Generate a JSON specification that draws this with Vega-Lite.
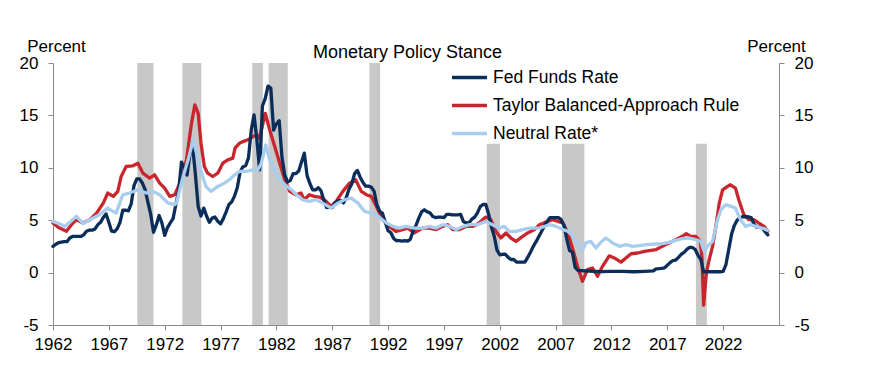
{
"$schema": "https://vega.github.io/schema/vega-lite/v6.json",
"width": 726,
"height": 262,
"autosize": {"type": "none"},
"padding": {"left": 53, "top": 63, "right": 90, "bottom": 40},
"background": "white",
"config": {
  "font": "Liberation Sans",
  "view": {"stroke": null},
  "axis": {"grid": false, "domainColor": "#8a8a8a", "tickColor": "#8a8a8a", "domainWidth": 1, "tickWidth": 1, "tickSize": 5,
           "labelFont": "Liberation Sans", "labelFontSize": 17, "labelColor": "#000000",
           "titleFont": "Liberation Sans", "titleFontSize": 17, "titleFontWeight": "normal", "titleColor": "#000000"}
},
"title": {"text": "Monetary Policy Stance", "font": "Liberation Sans", "fontSize": 18, "fontWeight": "normal", "color": "#000000",
          "anchor": "middle", "frame": "group", "dx": -8.5, "baseline": "alphabetic", "offset": -39},
"datasets": {
  "rec": [
    {"s": 1969.55, "e": 1971.0, "top": 20},
    {"s": 1973.58, "e": 1975.28, "top": 20},
    {"s": 1979.84, "e": 1980.79, "top": 20},
    {"s": 1981.3, "e": 1983.02, "top": 20},
    {"s": 1990.33, "e": 1991.29, "top": 20},
    {"s": 2000.83, "e": 2002.02, "top": 12.3},
    {"s": 2007.57, "e": 2009.57, "top": 12.3},
    {"s": 2019.56, "e": 2020.54, "top": 12.3}
  ],
  "ffr": [
    {"t":1962.0,"v":2.5},{"t":1962.25,"v":2.7},{"t":1962.5,"v":2.85},{"t":1962.75,"v":2.9},{"t":1963.0,"v":2.95},{"t":1963.25,"v":2.95},{"t":1963.5,"v":3.3},{"t":1963.75,"v":3.45},
    {"t":1964.0,"v":3.45},{"t":1964.25,"v":3.45},{"t":1964.5,"v":3.45},{"t":1964.75,"v":3.6},{"t":1965.0,"v":3.95},{"t":1965.25,"v":4.05},{"t":1965.5,"v":4.05},{"t":1965.75,"v":4.15},
    {"t":1966.0,"v":4.55},{"t":1966.25,"v":4.8},{"t":1966.5,"v":5.25},{"t":1966.75,"v":5.6},{"t":1967.0,"v":4.8},{"t":1967.25,"v":3.95},{"t":1967.5,"v":3.9},{"t":1967.75,"v":4.2},
    {"t":1968.0,"v":4.8},{"t":1968.25,"v":5.95},{"t":1968.5,"v":5.95},{"t":1968.75,"v":5.9},{"t":1969.0,"v":6.55},{"t":1969.25,"v":8.3},{"t":1969.5,"v":8.95},{"t":1969.75,"v":8.95},
    {"t":1970.0,"v":8.55},{"t":1970.25,"v":7.9},{"t":1970.5,"v":6.7},{"t":1970.75,"v":5.55},{"t":1971.0,"v":3.85},{"t":1971.25,"v":4.55},{"t":1971.5,"v":5.45},{"t":1971.75,"v":4.75},
    {"t":1972.0,"v":3.55},{"t":1972.25,"v":4.3},{"t":1972.5,"v":4.75},{"t":1972.75,"v":5.15},{"t":1973.0,"v":6.5},{"t":1973.25,"v":7.8},{"t":1973.5,"v":10.55},{"t":1973.75,"v":10.0},
    {"t":1974.0,"v":9.3},{"t":1974.25,"v":11.25},{"t":1974.5,"v":12.1},{"t":1974.75,"v":9.35},{"t":1975.0,"v":6.3},{"t":1975.25,"v":5.4},{"t":1975.5,"v":6.15},{"t":1975.75,"v":5.4},
    {"t":1976.0,"v":4.8},{"t":1976.25,"v":5.2},{"t":1976.5,"v":5.3},{"t":1976.75,"v":4.9},{"t":1977.0,"v":4.65},{"t":1977.25,"v":5.15},{"t":1977.5,"v":5.8},{"t":1977.75,"v":6.5},
    {"t":1978.0,"v":6.75},{"t":1978.25,"v":7.3},{"t":1978.5,"v":8.1},{"t":1978.75,"v":9.6},{"t":1979.0,"v":10.1},{"t":1979.25,"v":10.2},{"t":1979.5,"v":10.95},{"t":1979.75,"v":13.6},
    {"t":1980.0,"v":15.05},{"t":1980.25,"v":12.7},{"t":1980.5,"v":9.8},{"t":1980.75,"v":15.9},{"t":1981.0,"v":16.6},{"t":1981.25,"v":17.8},{"t":1981.5,"v":17.6},{"t":1981.75,"v":13.6},
    {"t":1982.0,"v":14.2},{"t":1982.25,"v":14.5},{"t":1982.5,"v":11.0},{"t":1982.75,"v":9.3},{"t":1983.0,"v":8.65},{"t":1983.25,"v":8.8},{"t":1983.5,"v":9.45},{"t":1983.75,"v":9.45},
    {"t":1984.0,"v":9.7},{"t":1984.25,"v":10.55},{"t":1984.5,"v":11.4},{"t":1984.75,"v":9.25},{"t":1985.0,"v":8.5},{"t":1985.25,"v":7.9},{"t":1985.5,"v":7.9},{"t":1985.75,"v":8.1},
    {"t":1986.0,"v":7.8},{"t":1986.25,"v":6.9},{"t":1986.5,"v":6.2},{"t":1986.75,"v":6.25},{"t":1987.0,"v":6.2},{"t":1987.25,"v":6.65},{"t":1987.5,"v":6.85},{"t":1987.75,"v":6.9},
    {"t":1988.0,"v":6.65},{"t":1988.25,"v":7.15},{"t":1988.5,"v":7.95},{"t":1988.75,"v":8.45},{"t":1989.0,"v":9.45},{"t":1989.25,"v":9.75},{"t":1989.5,"v":9.1},{"t":1989.75,"v":8.6},
    {"t":1990.0,"v":8.25},{"t":1990.25,"v":8.25},{"t":1990.5,"v":8.15},{"t":1990.75,"v":7.75},{"t":1991.0,"v":6.45},{"t":1991.25,"v":5.85},{"t":1991.5,"v":5.65},{"t":1991.75,"v":4.8},
    {"t":1992.0,"v":4.0},{"t":1992.25,"v":3.8},{"t":1992.5,"v":3.25},{"t":1992.75,"v":3.05},{"t":1993.0,"v":3.05},{"t":1993.25,"v":3.0},{"t":1993.5,"v":3.05},{"t":1993.75,"v":3.0},
    {"t":1994.0,"v":3.2},{"t":1994.25,"v":4.0},{"t":1994.5,"v":4.5},{"t":1994.75,"v":5.2},{"t":1995.0,"v":5.8},{"t":1995.25,"v":6.0},{"t":1995.5,"v":5.8},{"t":1995.75,"v":5.7},
    {"t":1996.0,"v":5.35},{"t":1996.25,"v":5.25},{"t":1996.5,"v":5.3},{"t":1996.75,"v":5.3},{"t":1997.0,"v":5.25},{"t":1997.25,"v":5.55},{"t":1997.5,"v":5.55},{"t":1997.75,"v":5.5},
    {"t":1998.0,"v":5.5},{"t":1998.25,"v":5.5},{"t":1998.5,"v":5.55},{"t":1998.75,"v":4.85},{"t":1999.0,"v":4.75},{"t":1999.25,"v":4.75},{"t":1999.5,"v":5.1},{"t":1999.75,"v":5.3},
    {"t":2000.0,"v":5.7},{"t":2000.25,"v":6.3},{"t":2000.5,"v":6.5},{"t":2000.75,"v":6.5},{"t":2001.0,"v":5.6},{"t":2001.25,"v":4.35},{"t":2001.5,"v":3.5},{"t":2001.75,"v":2.15},
    {"t":2002.0,"v":1.7},{"t":2002.25,"v":1.75},{"t":2002.5,"v":1.75},{"t":2002.75,"v":1.45},{"t":2003.0,"v":1.25},{"t":2003.25,"v":1.25},{"t":2003.5,"v":1.0},{"t":2003.75,"v":1.0},
    {"t":2004.0,"v":1.0},{"t":2004.25,"v":1.0},{"t":2004.5,"v":1.45},{"t":2004.75,"v":1.95},{"t":2005.0,"v":2.5},{"t":2005.25,"v":2.95},{"t":2005.5,"v":3.45},{"t":2005.75,"v":3.95},
    {"t":2006.0,"v":4.45},{"t":2006.25,"v":4.9},{"t":2006.5,"v":5.25},{"t":2006.75,"v":5.25},{"t":2007.0,"v":5.25},{"t":2007.25,"v":5.25},{"t":2007.5,"v":5.05},{"t":2007.75,"v":4.5},
    {"t":2008.0,"v":3.2},{"t":2008.25,"v":2.1},{"t":2008.5,"v":1.95},{"t":2008.75,"v":0.5},{"t":2009.0,"v":0.2},{"t":2010.0,"v":0.15},{"t":2011.0,"v":0.1},{"t":2012.0,"v":0.12},
    {"t":2013.0,"v":0.12},{"t":2014.0,"v":0.08},{"t":2015.0,"v":0.12},{"t":2015.75,"v":0.16},{"t":2016.0,"v":0.36},{"t":2016.25,"v":0.37},{"t":2016.5,"v":0.4},{"t":2016.75,"v":0.45},
    {"t":2017.0,"v":0.7},{"t":2017.25,"v":0.95},{"t":2017.5,"v":1.15},{"t":2017.75,"v":1.2},{"t":2018.0,"v":1.45},{"t":2018.25,"v":1.75},{"t":2018.5,"v":1.92},{"t":2018.75,"v":2.22},
    {"t":2019.0,"v":2.4},{"t":2019.25,"v":2.4},{"t":2019.5,"v":2.2},{"t":2019.75,"v":1.64},{"t":2020.0,"v":1.25},{"t":2020.25,"v":0.06},{"t":2020.5,"v":0.09},{"t":2021.0,"v":0.08},
    {"t":2021.5,"v":0.1},{"t":2021.75,"v":0.08},{"t":2022.0,"v":0.12},{"t":2022.25,"v":0.77},{"t":2022.5,"v":2.2},{"t":2022.75,"v":3.65},{"t":2023.0,"v":4.5},{"t":2023.25,"v":5.0},
    {"t":2023.5,"v":5.25},{"t":2023.75,"v":5.33},{"t":2024.0,"v":5.33},{"t":2024.25,"v":5.33},{"t":2024.5,"v":5.26},{"t":2024.75,"v":4.65},{"t":2025.0,"v":4.33},{"t":2025.25,"v":4.33},
    {"t":2025.5,"v":4.3},{"t":2025.75,"v":3.9},{"t":2026.0,"v":3.6}
  ],
  "tay": [
    {"t":1962.0,"v":4.73},{"t":1962.5,"v":4.3},{"t":1963.2,"v":3.94},{"t":1963.6,"v":4.5},{"t":1964.1,"v":5.05},{"t":1964.7,"v":4.73},{"t":1965.3,"v":5.05},{"t":1965.9,"v":5.68},
    {"t":1966.5,"v":6.63},{"t":1966.9,"v":7.59},{"t":1967.4,"v":7.27},{"t":1967.8,"v":7.75},{"t":1968.1,"v":9.17},{"t":1968.55,"v":10.13},{"t":1969.15,"v":10.19},{"t":1969.6,"v":10.44},
    {"t":1970.05,"v":9.49},{"t":1970.65,"v":9.02},{"t":1971.1,"v":9.33},{"t":1971.55,"v":8.54},{"t":1972.0,"v":8.06},{"t":1972.45,"v":7.27},{"t":1972.9,"v":7.43},{"t":1973.5,"v":8.86},
    {"t":1973.95,"v":10.76},{"t":1974.4,"v":14.25},{"t":1974.7,"v":16.0},{"t":1975.0,"v":15.2},{"t":1975.25,"v":12.35},{"t":1975.55,"v":10.13},{"t":1975.85,"v":9.49},{"t":1976.3,"v":9.17},
    {"t":1976.75,"v":9.49},{"t":1977.2,"v":10.44},{"t":1977.65,"v":10.76},{"t":1978.1,"v":10.92},{"t":1978.3,"v":11.87},{"t":1978.7,"v":12.35},{"t":1979.0,"v":12.5},{"t":1979.45,"v":12.67},
    {"t":1979.9,"v":12.98},{"t":1980.25,"v":13.14},{"t":1980.5,"v":12.83},{"t":1981.0,"v":15.2},{"t":1981.4,"v":13.62},{"t":1981.85,"v":12.03},{"t":1982.3,"v":10.44},{"t":1982.75,"v":8.86},
    {"t":1983.2,"v":7.75},{"t":1983.75,"v":7.43},{"t":1984.2,"v":7.59},{"t":1984.5,"v":6.95},{"t":1984.95,"v":7.43},{"t":1985.4,"v":7.27},{"t":1985.85,"v":7.21},{"t":1986.3,"v":6.95},
    {"t":1986.9,"v":6.32},{"t":1987.35,"v":6.79},{"t":1987.95,"v":7.75},{"t":1988.55,"v":8.54},{"t":1989.1,"v":8.86},{"t":1989.6,"v":7.75},{"t":1990.05,"v":7.43},{"t":1990.5,"v":7.27},
    {"t":1990.95,"v":6.32},{"t":1991.5,"v":5.05},{"t":1992.1,"v":4.41},{"t":1992.7,"v":3.94},{"t":1993.3,"v":4.1},{"t":1993.75,"v":4.25},{"t":1994.35,"v":3.8},{"t":1995.1,"v":4.25},
    {"t":1995.7,"v":4.25},{"t":1996.3,"v":4.1},{"t":1996.9,"v":4.41},{"t":1997.35,"v":4.57},{"t":1997.8,"v":4.1},{"t":1998.4,"v":4.1},{"t":1999.0,"v":4.41},{"t":1999.6,"v":4.41},
    {"t":2000.15,"v":4.73},{"t":2000.75,"v":5.3},{"t":2001.2,"v":5.05},{"t":2001.65,"v":3.94},{"t":2002.1,"v":3.3},{"t":2002.55,"v":3.78},{"t":2003.0,"v":3.3},{"t":2003.45,"v":2.98},
    {"t":2004.05,"v":3.46},{"t":2004.5,"v":3.78},{"t":2005.1,"v":4.1},{"t":2005.55,"v":4.57},{"t":2006.3,"v":4.89},{"t":2006.75,"v":5.05},{"t":2007.2,"v":4.89},{"t":2007.65,"v":4.73},
    {"t":2008.1,"v":3.78},{"t":2008.55,"v":2.19},{"t":2009.0,"v":0.44},{"t":2009.4,"v":-0.83},{"t":2009.85,"v":0.29},{"t":2010.3,"v":0.44},{"t":2010.75,"v":-0.35},{"t":2011.2,"v":0.6},
    {"t":2011.8,"v":1.6},{"t":2012.25,"v":1.4},{"t":2012.85,"v":1.0},{"t":2013.3,"v":1.4},{"t":2013.75,"v":1.8},{"t":2014.35,"v":1.87},{"t":2014.95,"v":2.03},{"t":2015.4,"v":2.1},
    {"t":2016.0,"v":2.2},{"t":2016.55,"v":2.5},{"t":2017.15,"v":2.83},{"t":2017.75,"v":3.14},{"t":2018.35,"v":3.46},{"t":2018.7,"v":3.71},{"t":2019.1,"v":3.46},{"t":2019.55,"v":3.46},
    {"t":2019.95,"v":2.98},{"t":2020.1,"v":1.5},{"t":2020.25,"v":-3.1},{"t":2020.5,"v":0.0},{"t":2020.75,"v":1.24},{"t":2021.05,"v":2.51},{"t":2021.35,"v":4.41},{"t":2021.65,"v":6.63},
    {"t":2021.95,"v":7.9},{"t":2022.4,"v":8.22},{"t":2022.65,"v":8.38},{"t":2023.1,"v":8.06},{"t":2023.4,"v":6.95},{"t":2023.85,"v":5.52},{"t":2024.3,"v":5.05},{"t":2024.75,"v":5.05},
    {"t":2025.2,"v":4.73},{"t":2025.65,"v":4.41},{"t":2026.0,"v":3.94}
  ],
  "neu": [
    {"t":1962.0,"v":4.89},{"t":1962.5,"v":4.7},{"t":1963.05,"v":4.41},{"t":1963.6,"v":4.9},{"t":1964.1,"v":5.37},{"t":1964.7,"v":4.67},{"t":1965.3,"v":5.05},{"t":1966.15,"v":5.52},
    {"t":1966.9,"v":6.16},{"t":1967.65,"v":5.68},{"t":1968.25,"v":7.43},{"t":1968.85,"v":7.59},{"t":1969.6,"v":7.9},{"t":1970.35,"v":7.59},{"t":1970.95,"v":7.75},{"t":1971.55,"v":7.43},
    {"t":1972.3,"v":6.63},{"t":1972.9,"v":6.48},{"t":1973.05,"v":6.63},{"t":1973.65,"v":9.17},{"t":1974.1,"v":10.76},{"t":1974.55,"v":12.67},{"t":1974.85,"v":11.4},{"t":1975.3,"v":9.49},
    {"t":1975.7,"v":8.22},{"t":1976.15,"v":7.75},{"t":1976.75,"v":8.22},{"t":1977.35,"v":8.54},{"t":1977.8,"v":8.86},{"t":1978.25,"v":9.33},{"t":1978.7,"v":9.65},{"t":1979.3,"v":9.65},
    {"t":1979.9,"v":9.81},{"t":1980.35,"v":9.81},{"t":1980.65,"v":10.44},{"t":1981.05,"v":12.19},{"t":1981.4,"v":10.76},{"t":1981.85,"v":9.81},{"t":1982.3,"v":8.86},{"t":1982.75,"v":8.38},
    {"t":1983.35,"v":7.9},{"t":1983.8,"v":7.43},{"t":1984.35,"v":6.95},{"t":1984.95,"v":6.79},{"t":1985.55,"v":6.95},{"t":1986.15,"v":6.63},{"t":1986.9,"v":6.16},{"t":1987.5,"v":6.63},
    {"t":1988.1,"v":6.95},{"t":1988.7,"v":7.11},{"t":1989.3,"v":6.63},{"t":1989.9,"v":5.84},{"t":1990.5,"v":5.68},{"t":1991.1,"v":5.37},{"t":1991.85,"v":4.73},{"t":1992.45,"v":4.41},
    {"t":1993.0,"v":4.25},{"t":1993.6,"v":4.41},{"t":1994.35,"v":4.25},{"t":1995.1,"v":4.25},{"t":1995.7,"v":4.41},{"t":1996.3,"v":4.25},{"t":1996.9,"v":4.57},{"t":1997.5,"v":4.41},
    {"t":1998.1,"v":4.1},{"t":1998.7,"v":4.41},{"t":1999.3,"v":4.57},{"t":2000.0,"v":4.57},{"t":2000.75,"v":4.89},{"t":2001.35,"v":4.57},{"t":2001.95,"v":4.25},{"t":2002.4,"v":4.41},
    {"t":2002.85,"v":3.94},{"t":2003.45,"v":3.94},{"t":2004.05,"v":4.1},{"t":2004.65,"v":4.25},{"t":2005.55,"v":4.25},{"t":2006.45,"v":4.57},{"t":2007.05,"v":4.41},{"t":2007.65,"v":4.1},
    {"t":2008.1,"v":3.94},{"t":2008.55,"v":3.46},{"t":2009.1,"v":2.51},{"t":2009.4,"v":2.1},{"t":2009.7,"v":2.83},{"t":2010.15,"v":2.98},{"t":2010.6,"v":2.35},{"t":2011.05,"v":2.89},
    {"t":2011.5,"v":3.3},{"t":2012.1,"v":2.83},{"t":2012.7,"v":2.51},{"t":2013.3,"v":2.67},{"t":2013.9,"v":2.51},{"t":2014.5,"v":2.57},{"t":2015.1,"v":2.67},{"t":2016.0,"v":2.73},
    {"t":2016.55,"v":2.76},{"t":2017.15,"v":2.89},{"t":2017.75,"v":3.08},{"t":2018.35,"v":3.24},{"t":2018.95,"v":3.3},{"t":2019.55,"v":3.14},{"t":2020.0,"v":2.98},{"t":2020.3,"v":2.03},
    {"t":2020.6,"v":2.51},{"t":2021.05,"v":2.98},{"t":2021.5,"v":5.05},{"t":2021.8,"v":6.0},{"t":2022.25,"v":6.48},{"t":2022.7,"v":6.32},{"t":2023.1,"v":6.16},{"t":2023.55,"v":5.05},
    {"t":2024.0,"v":4.41},{"t":2024.5,"v":4.57},{"t":2024.9,"v":4.41},{"t":2025.5,"v":4.25},{"t":2026.0,"v":4.03}
  ]
},
"resolve": {"axis": {"y": "independent"}},
"layer": [
  {
    "data": {"name": "rec"},
    "mark": {"type": "rect", "color": "#c8c8c8"},
    "encoding": {
      "x": {"field": "s", "type": "quantitative", "scale": {"domain": [1962, 2027], "nice": false, "zero": false},
            "axis": {"values": [1962,1967,1972,1977,1982,1987,1992,1997,2002,2007,2012,2017,2022], "format": "d", "labelFlush": false, "labelOverlap": false, "labelPadding": 6, "title": null}},
      "x2": {"field": "e"},
      "y": {"field": "top", "type": "quantitative", "scale": {"domain": [-5, 20], "nice": false, "zero": false},
            "axis": {"orient": "left", "values": [-5,0,5,10,15,20], "labelExpr": "'' + datum.value", "labelPadding": 10, "title": "Percent", "titleAngle": 0, "titleAlign": "center", "titleBaseline": "alphabetic", "titleX": 3, "titleY": -12}},
      "y2": {"datum": -5}
    }
  },
  {
    "mark": {"type": "rule", "color": "#8a8a8a", "strokeWidth": 1.3},
    "encoding": {
      "y": {"datum": 0, "type": "quantitative", "scale": {"domain": [-5, 20], "nice": false, "zero": false},
            "axis": {"orient": "right", "values": [-5,0,5,10,15,20], "labelExpr": "'' + datum.value", "labelPadding": 10, "title": "Percent", "titleAngle": 0, "titleAlign": "center", "titleBaseline": "alphabetic", "titleX": -3, "titleY": -12}}
    }
  },
  {
    "data": {"name": "tay"},
    "mark": {"type": "line", "strokeWidth": 3.3, "strokeJoin": "round", "strokeCap": "round"},
    "encoding": {
      "x": {"field": "t", "type": "quantitative"},
      "y": {"field": "v", "type": "quantitative", "axis": null},
      "color": {"datum": "Taylor Balanced-Approach Rule", "type": "nominal",
                "scale": {"domain": ["Fed Funds Rate", "Taylor Balanced-Approach Rule", "Neutral Rate*"], "range": ["#0a2d5a", "#c8262c", "#a9cdee"]},
                "legend": {"orient": "none", "legendX": 397, "legendY": -5, "direction": "vertical", "title": null, "padding": 0,
                           "symbolType": "stroke", "symbolSize": 1225, "symbolStrokeWidth": 3.3, "labelFont": "Liberation Sans", "labelFontSize": 17.5, "labelColor": "#000000",
                           "labelOffset": 4, "rowPadding": -8, "labelLimit": 400}}
    }
  },
  {
    "data": {"name": "ffr"},
    "mark": {"type": "line", "strokeWidth": 3.3, "strokeJoin": "round", "strokeCap": "round"},
    "encoding": {
      "x": {"field": "t", "type": "quantitative"},
      "y": {"field": "v", "type": "quantitative", "axis": null},
      "color": {"datum": "Fed Funds Rate", "type": "nominal"}
    }
  },
  {
    "data": {"name": "neu"},
    "mark": {"type": "line", "strokeWidth": 3.3, "strokeJoin": "round", "strokeCap": "round"},
    "encoding": {
      "x": {"field": "t", "type": "quantitative"},
      "y": {"field": "v", "type": "quantitative", "axis": null},
      "color": {"datum": "Neutral Rate*", "type": "nominal"}
    }
  }
]
}
